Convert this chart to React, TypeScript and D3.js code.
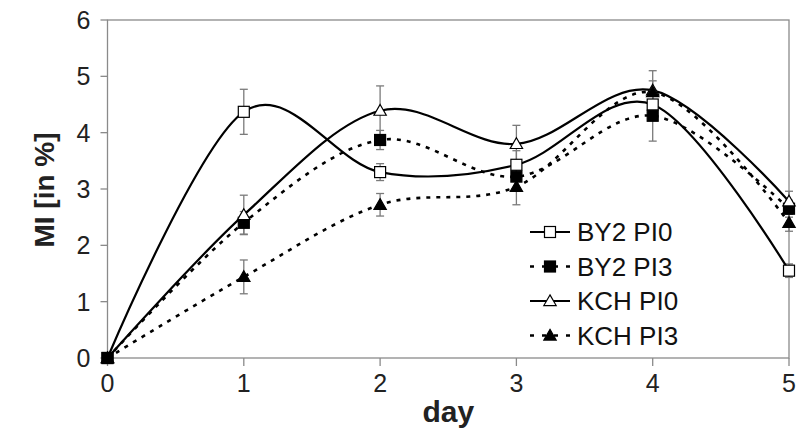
import React from "react";
import * as d3 from "d3";

const days = [0, 1, 2, 3, 4, 5];
const seriesNames = ["BY2 PI0", "BY2 PI3", "KCH PI0", "KCH PI3"];
const by2Pi0 = [0, 4.37, 3.3, 3.43, 4.5, 1.55];
const by2Pi3 = [0, 2.4, 3.87, 3.22, 4.3, 2.65];
const kchPi0 = [0, 2.54, 4.39, 3.8, 4.75, 2.78];
const kchPi3 = [0, 1.44, 2.72, 3.04, 4.72, 2.4];
const by2Pi0Err = [0, 0.4, 0.15, 0.25, 0.2, 0.12];
const by2Pi3Err = [0, 0.2, 0.17, 0.2, 0.45, 0.15];
const kchPi0Err = [0, 0.35, 0.44, 0.33, 0.35, 0.18];
const kchPi3Err = [0, 0.3, 0.2, 0.32, 0.2, 0.15];
const yTicks = [0, 1, 2, 3, 4, 5, 6];
const xTicks = [0, 1, 2, 3, 4, 5];

const W = 800, H = 434;
const left = 107.5, right = 789, top = 20, bottom = 358;
const FONT = "'Liberation Sans', Arial, sans-serif";

type Series = { name: string; values: number[]; err: number[]; dashed: boolean; marker: "square" | "triangle"; filled: boolean };

const series: Series[] = [
  { name: seriesNames[0], values: by2Pi0, err: by2Pi0Err, dashed: false, marker: "square", filled: false },
  { name: seriesNames[1], values: by2Pi3, err: by2Pi3Err, dashed: true, marker: "square", filled: true },
  { name: seriesNames[2], values: kchPi0, err: kchPi0Err, dashed: false, marker: "triangle", filled: false },
  { name: seriesNames[3], values: kchPi3, err: kchPi3Err, dashed: true, marker: "triangle", filled: true },
];

function Marker({ x, y, s }: { x: number; y: number; s: Series }) {
  const fill = s.filled ? "#000" : "#fff";
  if (s.marker === "square") {
    return <rect x={x - 5.5} y={y - 5.5} width={11} height={11} fill={fill} stroke="#000" strokeWidth={1.2} />;
  }
  const sym = d3.symbol().type(d3.symbolTriangle).size(66)();
  return <path d={sym as string} transform={`translate(${x},${y + 1})`} fill={fill} stroke="#000" strokeWidth={1.2} />;
}

export default function App() {
  const x = d3.scaleLinear().domain([0, 5]).range([left, right]);
  const y = d3.scaleLinear().domain([0, 6]).range([bottom, top]);
  const line = d3
    .line<number>()
    .x((_, i) => x(days[i]))
    .y((d) => y(d))
    .curve(d3.curveCardinal.tension(0));
  const axisColor = "#8a8a8a";
  const legendY = [232, 266.5, 301, 335.5];

  return (
    <svg width={W} height={H} style={{ position: "absolute", left: 0, top: 0, background: "#fff" }}>
      <rect x={left} y={top} width={right - left} height={bottom - top} fill="none" stroke={axisColor} strokeWidth={1.3} />
      {yTicks.map((t) => (
        <g key={"y" + t}>
          <line x1={left - 7} x2={left} y1={y(t)} y2={y(t)} stroke={axisColor} strokeWidth={1.3} />
          <text x={left - 17} y={y(t)} dy="0.36em" textAnchor="end" fontFamily={FONT} fontSize={25} fill="#222">
            {t}
          </text>
        </g>
      ))}
      {xTicks.map((t) => (
        <g key={"x" + t}>
          <line x1={x(t)} x2={x(t)} y1={bottom} y2={bottom + 8} stroke={axisColor} strokeWidth={1.3} />
          <text x={x(t)} y={392} textAnchor="middle" fontFamily={FONT} fontSize={25} fill="#222">
            {t}
          </text>
        </g>
      ))}
      <text x={x(2.5)} y={422} textAnchor="middle" fontFamily={FONT} fontSize={30} fontWeight="bold" fill="#222">
        day
      </text>
      <text
        transform={`translate(54,${190}) rotate(-90)`}
        textAnchor="middle"
        fontFamily={FONT}
        fontSize={28}
        fontWeight="bold"
        fill="#222"
      >
        MI [in %]
      </text>

      {series.map((s) =>
        s.values.map((v, i) =>
          s.err[i] > 0 ? (
            <g key={s.name + "e" + i} stroke="#7a7a7a" strokeWidth={1.3}>
              <line x1={x(days[i])} x2={x(days[i])} y1={y(v + s.err[i])} y2={y(v - s.err[i])} />
              <line x1={x(days[i]) - 4} x2={x(days[i]) + 4} y1={y(v + s.err[i])} y2={y(v + s.err[i])} />
              <line x1={x(days[i]) - 4} x2={x(days[i]) + 4} y1={y(v - s.err[i])} y2={y(v - s.err[i])} />
            </g>
          ) : null
        )
      )}

      {series.map((s) => (
        <path
          key={s.name + "l"}
          d={line(s.values) as string}
          fill="none"
          stroke="#000"
          strokeWidth={s.dashed ? 2.6 : 2.2}
          strokeDasharray={s.dashed ? "4 6" : undefined}
        />
      ))}

      {series.map((s) =>
        s.values.map((v, i) => <Marker key={s.name + "m" + i} x={x(days[i])} y={y(v)} s={s} />)
      )}

      {series.map((s, i) => (
        <g key={s.name + "lg"}>
          <line
            x1={530}
            x2={570}
            y1={legendY[i]}
            y2={legendY[i]}
            stroke="#000"
            strokeWidth={s.dashed ? 2.6 : 2.2}
            strokeDasharray={s.dashed ? "4 8" : undefined}
          />
          <Marker x={550} y={legendY[i]} s={s} />
          <text x={577} y={legendY[i]} dy="0.36em" fontFamily={FONT} fontSize={26} fill="#111">
            {s.name}
          </text>
        </g>
      ))}
    </svg>
  );
}
